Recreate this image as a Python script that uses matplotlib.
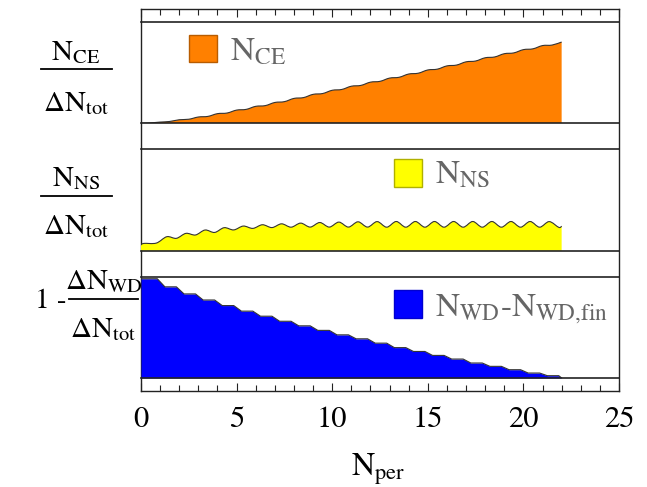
import numpy as np
import matplotlib
matplotlib.use("Agg")
import matplotlib.pyplot as plt
from matplotlib.patches import Rectangle, PathPatch
from matplotlib.path import Path
from matplotlib.lines import Line2D

plt.rcParams["font.family"] = ["STIXGeneral", "DejaVu Serif"]
plt.rcParams["mathtext.fontset"] = "stix"

# N_CE / dN_tot, sampled at whole and half periods
ce_x = np.arange(0, 22.01, 0.5)
ce_y = [0.000, 0.004, 0.012, 0.018, 0.035, 0.040, 0.062, 0.068, 0.095, 0.101,
        0.130, 0.137, 0.167, 0.174, 0.205, 0.213, 0.245, 0.253, 0.285, 0.293,
        0.325, 0.333, 0.365, 0.373, 0.405, 0.413, 0.445, 0.453, 0.485, 0.493,
        0.525, 0.533, 0.565, 0.573, 0.605, 0.613, 0.645, 0.653, 0.685, 0.693,
        0.725, 0.733, 0.765, 0.770, 0.800]

# N_NS / dN_tot, peaks and dips of each period
ns_x = [0, 0.15, 0.8, 1.35, 1.85, 2.35, 2.85, 3.35, 3.85, 4.35, 4.85, 5.35, 5.85,
        6.35, 6.85, 7.35, 7.85, 8.35, 8.85, 9.35, 9.85, 10.35, 10.85, 11.35, 11.85,
        12.35, 12.85, 13.35, 13.85, 14.35, 14.85, 15.35, 15.85, 16.35, 16.85,
        17.35, 17.85, 18.35, 18.85, 19.35, 19.85, 20.35, 20.85, 21.35, 21.85, 22.0]
ns_y = [0.056, 0.072, 0.075, 0.138, 0.122, 0.171, 0.155, 0.204, 0.180, 0.227, 0.205,
        0.243, 0.220, 0.256, 0.228, 0.265, 0.232, 0.272, 0.233, 0.278, 0.233,
        0.282, 0.233, 0.285, 0.233, 0.287, 0.232, 0.288, 0.232, 0.288, 0.232,
        0.288, 0.232, 0.288, 0.232, 0.288, 0.232, 0.288, 0.232, 0.288, 0.232,
        0.288, 0.232, 0.287, 0.230, 0.242]

# 1 - dN_WD / dN_tot, level of each plateau (one per period)
wd_levels = [0.98, 0.90, 0.83, 0.77, 0.715, 0.66, 0.61, 0.56, 0.515, 0.47, 0.426,
             0.387, 0.344, 0.30, 0.262, 0.223, 0.187, 0.148, 0.115, 0.082, 0.049,
             0.023, 0.0]

wd_x, wd_y = [0.0], [wd_levels[0]]
for k, lev in enumerate(wd_levels[:-1]):
    if k > 0:
        wd_x.append(k + 0.25)
        wd_y.append(lev)
    wd_x.append(k + 0.85)
    wd_y.append(lev)
wd_x.append(22.0)
wd_y.append(wd_levels[-1])


def smooth_path(x, y, closed=False):
    # Catmull-Rom through the points, drawn as cubic Bezier segments
    p = np.column_stack([x, y]).astype(float)
    verts = [p[0]]
    codes = [Path.MOVETO]
    n = len(p)
    for i in range(n - 1):
        p0 = p[i - 1] if i > 0 else p[i]
        p3 = p[i + 2] if i + 2 < n else p[i + 1]
        c1 = p[i] + (p[i + 1] - p0) / 6
        c2 = p[i + 1] - (p3 - p[i]) / 6
        verts += [c1, c2, p[i + 1]]
        codes += [Path.CURVE4] * 3
    if closed:
        verts += [(p[-1][0], 0), (p[0][0], 0), p[0]]
        codes += [Path.LINETO, Path.LINETO, Path.CLOSEPOLY]
    return Path(verts, codes)


W, H = 647, 487
fig = plt.figure(figsize=(W / 100, H / 100), dpi=100)


def fx(px):
    return px / W


def fy(py):
    return 1 - py / H


# outer frame carrying the N_per axis
left, right = 141, 619
ax0 = fig.add_axes([fx(left), fy(391), fx(right - left), (391 - 9) / H])
ax0.set_xlim(0, 25)
ax0.set_ylim(0, 1)
ax0.set_yticks([])
ax0.set_xticks(range(0, 26, 5))
ax0.set_xticks(range(0, 26), minor=True)
ax0.tick_params(axis="x", which="both", direction="in", top=True, bottom=True,
                labelsize=22, pad=11, width=0.8, color="#222")
ax0.tick_params(axis="x", which="major", length=6)
ax0.tick_params(axis="x", which="minor", length=4)
for s in ax0.spines.values():
    s.set_linewidth(1.0)
    s.set_color("#222")
fig.text(fx(378), fy(476), r"N$_{\mathrm{per}}$", fontsize=23, ha="center", va="baseline")

panels = [(21.7, 123.3), (149.3, 250.7), (276.7, 378.0)]
series = [
    (ce_x, ce_y, True, "#ff8000", "#b85c00", r"N$_{\mathrm{CE}}$", (0.101, 0.600), (0.186, 0.616)),
    (ns_x, ns_y, True, "#ffff00", "#b0b000", r"N$_{\mathrm{NS}}$", (0.530, 0.631), (0.615, 0.658)),
    (wd_x, wd_y, False, "#0000ff", "#0000d0", r"N$_{\mathrm{WD}}$-N$_{\mathrm{WD{,}fin}}$", (0.530, 0.595), (0.615, 0.615)),
]

for (top, bot), (x, y, smooth, fc, ec, lab, sq, tx) in zip(panels, series):
    ax = fig.add_axes([fx(left), fy(bot), fx(right - left), (bot - top) / H])
    ax.set_facecolor("none")
    ax.set_xlim(0, 25)
    ax.set_ylim(0, 1)
    ax.set_xticks([])
    ax.set_yticks([])
    ax.spines["left"].set_visible(False)
    ax.spines["right"].set_visible(False)
    for side in ("top", "bottom"):
        ax.spines[side].set_linewidth(1.2)
        ax.spines[side].set_color("#222")
    if smooth:
        ax.add_patch(PathPatch(smooth_path(x, y, closed=True), facecolor=fc, lw=0))
        ax.add_patch(PathPatch(smooth_path(x, y), facecolor="none", edgecolor="#333", lw=0.8))
    else:
        ax.fill_between(x, 0, y, color=fc, lw=0)
        ax.plot(x, y, color="#333", lw=0.8)
    ax.add_patch(Rectangle(sq, 0.057, 0.27, transform=ax.transAxes,
                           facecolor=fc, edgecolor=ec, lw=1.0))
    ax.text(tx[0], tx[1], lab, transform=ax.transAxes, fontsize=24,
            color="#666666", va="baseline", ha="left")

# fraction labels on the left
fs = 21


def fraction(cx, x0, x1, ybar, num, num_base, den, den_base):
    fig.text(fx(cx), fy(num_base), num, fontsize=fs, ha="center", va="baseline")
    fig.text(fx(cx), fy(den_base), den, fontsize=fs, ha="center", va="baseline")
    fig.add_artist(Line2D([fx(x0), fx(x1)], [fy(ybar), fy(ybar)], color="black",
                          lw=1.3, transform=fig.transFigure))


fraction(76, 40.7, 111.7, 68.7, r"N$_{\mathrm{CE}}$", 60, r"ΔN$_{\mathrm{tot}}$", 110.7)
fraction(76, 40.7, 111.7, 195.7, r"N$_{\mathrm{NS}}$", 185.7, r"ΔN$_{\mathrm{tot}}$", 234.3)
fraction(103.5, 68.5, 138.3, 299.3, r"ΔN$_{\mathrm{WD}}$", 289.3, r"ΔN$_{\mathrm{tot}}$", 336.7)
fig.text(fx(35), fy(308), "1 -", fontsize=fs, ha="left", va="baseline")

fig.savefig("out.png", dpi=100)
